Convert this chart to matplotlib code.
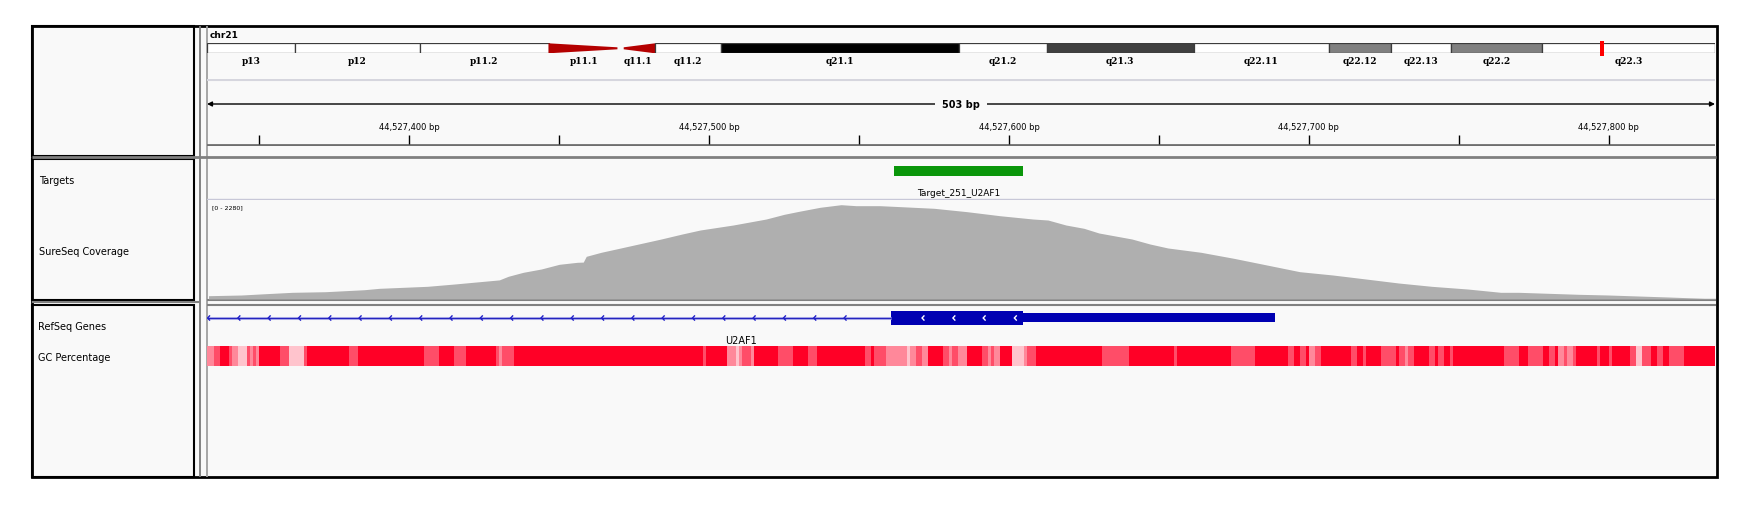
import numpy as np
import matplotlib.pyplot as plt
from matplotlib.patches import Rectangle, Polygon

W, H = 1751, 510

# chr21 cytobands (hg19), in Mb
band_names = ['p13', 'p12', 'p11.2', 'p11.1', 'q11.1', 'q11.2', 'q21.1', 'q21.2',
              'q21.3', 'q22.11', 'q22.12', 'q22.13', 'q22.2', 'q22.3']
band_starts = [0.0, 2.8, 6.8, 10.9, 13.2, 14.3, 16.4, 24.0, 26.8, 31.5, 35.8, 37.8, 39.7, 42.6]
band_ends = [2.8, 6.8, 10.9, 13.2, 14.3, 16.4, 24.0, 26.8, 31.5, 35.8, 37.8, 39.7, 42.6, 48.13]
band_stains = ['gvar', 'stalk', 'gvar', 'acen', 'acen', 'gneg', 'gpos100', 'gneg',
               'gpos75', 'gneg', 'gpos50', 'gneg', 'gpos50', 'gneg']
chrom_len = 48.13

# view window
base = 44527000
view_start = base + 332.5
view_bp = 503
view_end = view_start + view_bp

# target
target_name = 'Target_251_U2AF1'
target_start = base + 561.6
target_end = base + 604.6

# gene (minus strand)
gene_name = 'U2AF1'
cds_start = base + 560.6
cds_end = base + 604.6
utr_end = base + 688.9

# coverage (offset from base, depth)
cov_pos = [333, 344, 352, 361, 372, 385, 390, 406, 415, 430, 433, 438, 444, 450, 456, 458,
           459, 464, 469, 475, 484, 491, 497, 508, 519, 525, 530, 537, 544, 549, 557, 564,
           575, 586, 597, 608, 613, 619, 625, 630, 641, 647, 653, 664, 675, 686, 697, 708,
           719, 730, 741, 753, 764, 770, 780, 790, 800, 810, 820, 832, 836]
cov_depth = [76, 92, 122, 154, 168, 214, 246, 292, 345, 440, 523, 615, 691, 799, 845, 850,
             983, 1076, 1152, 1244, 1382, 1497, 1589, 1704, 1842, 1950, 2020, 2112, 2172, 2149, 2149, 2126,
             2089, 2011, 1918, 1842, 1819, 1704, 1628, 1520, 1382, 1267, 1175, 1076, 937, 783, 629, 553,
             461, 368, 292, 230, 154, 154, 131, 108, 92, 69, 46, 16, 16]
cov_max = 2280

# GC percentage windows (start offset from base, percent)
gc_starts = [332, 335, 337, 340, 341, 343, 346, 347, 348, 349, 350, 357, 360, 365, 366, 380,
             383, 405, 410, 415, 419, 429, 430, 431, 435, 498, 499, 506, 509, 510, 511, 514,
             515, 523, 528, 533, 536, 552, 554, 555, 559, 566, 567, 569, 571, 573, 578, 580,
             581, 583, 586, 591, 593, 594, 595, 597, 601, 605, 606, 609, 631, 640, 655, 656,
             674, 682, 693, 695, 697, 699, 700, 702, 704, 714, 716, 718, 719, 724, 729, 730,
             732, 733, 735, 740, 742, 743, 745, 747, 748, 765, 770, 773, 778, 780, 782, 783,
             785, 786, 788, 789, 796, 797, 800, 801, 807, 809, 811, 814, 816, 818, 820, 825]
gc_pct = [45, 55, 68, 55, 45, 35, 55, 45, 55, 45, 68, 55, 35, 55, 68, 55,
          68, 55, 68, 55, 68, 55, 45, 55, 68, 55, 68, 45, 35, 45, 55, 45,
          68, 55, 68, 55, 68, 55, 68, 55, 45, 35, 45, 55, 45, 68, 55, 45,
          55, 45, 68, 55, 45, 55, 45, 68, 35, 45, 55, 68, 55, 68, 55, 68,
          55, 68, 55, 68, 55, 68, 45, 55, 68, 55, 68, 55, 68, 55, 68, 55,
          45, 55, 68, 55, 68, 55, 68, 55, 68, 55, 68, 55, 68, 55, 68, 45,
          55, 45, 55, 68, 55, 68, 55, 68, 55, 35, 55, 68, 55, 68, 55, 68]
gc_end = 836

stain_colors = {'gneg': 'white', 'gvar': 'white', 'stalk': 'white', 'gpos50': '#808080',
                'gpos75': '#404040', 'gpos100': 'black', 'acen': '#B40000'}

BG = '#F9F9F9'
X0, X1 = 207, 1715  # data panel in pixels


def fig_rect(x0, y0, x1, y1):
    return [x0 / W, 1 - y1 / H, (x1 - x0) / W, (y1 - y0) / H]


def track_axes(y0, y1, ylim):
    ax = fig.add_axes(fig_rect(X0, y0, X1, y1))
    ax.set_xlim(view_start, view_end)
    ax.set_ylim(*ylim)
    ax.axis('off')
    ax.patch.set_alpha(0)
    return ax


def chevrons(ax, xs, y, color, lw, dx=0.8, dy=2.6):
    for x in xs:
        ax.plot([x + dx, x, x + dx], [y - dy, y, y + dy], color=color, lw=lw,
                solid_capstyle='butt', solid_joinstyle='miter')


fig = plt.figure(figsize=(W / 100, H / 100), dpi=100)
fig.patch.set_facecolor('white')

# --- frame / name panels ---
bg = fig.add_axes([0, 0, 1, 1])
bg.set_xlim(0, W)
bg.set_ylim(H, 0)
bg.axis('off')
bg.add_patch(Rectangle((32, 27), 1684.5, 451, fc=BG, ec='none'))
for y0, y1 in [(27, 157), (160, 300.7), (306, 478)]:
    bg.add_patch(Rectangle((32, y0), 162, y1 - y0, fc='none', ec='black', lw=1.5))
bg.vlines([200], 27, 478, color='#7a7a7a', lw=1.3)
bg.vlines([206.7], 27, 478, color='#a0a0a0', lw=1.3)
bg.hlines([158], 32, 1716, color='#808080', lw=2)
bg.hlines([303.3], 32, 200, color='#808080', lw=1.5)
bg.hlines([301.2, 305.5], 207, 1716, color='#808080', lw=1.5)
bg.add_patch(Rectangle((32, 27), 1684.5, 451, fc='none', ec='black', lw=2))

label_kw = dict(fontsize=7, va='center', ha='left', color='black')
bg.text(39, 181, 'Targets', **label_kw)
bg.text(39, 252, 'SureSeq Coverage', **label_kw)
bg.text(38, 327.5, 'RefSeq Genes', **label_kw)
bg.text(38, 358, 'GC Percentage', **label_kw)
bg.text(210, 36, 'chr21', fontsize=6.5, fontweight='bold', va='center', ha='left')
bg.text(211.5, 208, '[0 - 2280]', fontsize=4.5, va='center', ha='left')

# --- ideogram ---
ideo = fig.add_axes(fig_rect(X0, 44.3, X1, 54.3))
ideo.set_xlim(0, chrom_len)
ideo.set_ylim(0, 1)
ideo.axis('off')
for name, s, e, stain in zip(band_names, band_starts, band_ends, band_stains):
    if stain == 'acen':
        if name.startswith('p'):
            pts = [(s, 1), (s, 0), (e - 0.1, 0.4), (e - 0.1, 0.6)]
        else:
            pts = [(s + 0.1, 0.4), (s + 0.1, 0.6), (e, 1), (e, 0)]
        ideo.add_patch(Polygon(pts, closed=True, fc=stain_colors[stain], ec='none'))
    else:
        ideo.add_patch(Rectangle((s, 0), e - s, 1, fc=stain_colors[stain],
                                 ec='#3c3c3c', lw=0.9))
    ideo.text((s + e) / 2, -0.7, name, fontsize=6.5, fontweight='bold',
              family='DejaVu Serif', ha='center', va='center', clip_on=False)
view_mid_mb = (view_start + view_end) / 2 / 1e6
ideo.bar(view_mid_mb, 1.5, width=0.12, bottom=-0.22, color='#FF0000', clip_on=False)

# --- ruler ---
ruler = track_axes(80, 147, (147, 80))
ruler.axhline(80.5, color='#d6d6de', lw=1.5)
ruler.axhline(146, color='#6e6e6e', lw=2)
ticks = np.arange(np.ceil(view_start / 50) * 50, view_end, 50)
ruler.vlines(ticks, 136, 145, color='black', lw=1)
for t in ticks:
    if t % 100 == 0:
        ruler.text(t, 128, f'{int(t):,} bp', fontsize=6, ha='center', va='center')
view_mid = (view_start + view_end) / 2
arrow_kw = dict(arrowstyle='-|>', color='black', lw=1, mutation_scale=7, shrinkA=0, shrinkB=0)
ruler.annotate('', xy=(view_start, 105), xytext=(view_mid, 105), arrowprops=arrow_kw)
ruler.annotate('', xy=(view_end, 105), xytext=(view_mid, 105), arrowprops=arrow_kw)
ruler.text(view_mid, 105, f'{view_bp} bp', fontsize=7, fontweight='bold', ha='center',
           va='center', bbox=dict(fc=BG, ec='none', pad=5))

# --- targets ---
tgt = track_axes(160, 200.7, (40.7, 0))
tgt.axhline(40.2, color='#c8c8d8', lw=1)
tgt.broken_barh([(target_start, target_end - target_start)], (6.7, 10), facecolors='#0A960A')
tgt.text((target_start + target_end) / 2, 33.7, target_name, fontsize=6.5, ha='center', va='center')

# --- coverage ---
cov = track_axes(201, 300, (0, cov_max))
cov_x = np.array(cov_pos) + base
cov.fill_between(cov_x, 0, cov_depth, color='#AFAFAF', lw=0)

# --- genes ---
gene = track_axes(306, 345, (39, 0))
gene.plot([view_start, cds_start], [13, 13], color='#c4c4f2', lw=2.2, solid_capstyle='butt')
gene.plot([view_start, cds_start], [13, 13], color='#2424BE', lw=1.0, solid_capstyle='butt')
chevrons(gene, view_start + 0.2 + np.arange(22) * 10.11, 13, '#2020C8', 1.0)
gene.broken_barh([(cds_start, cds_end - cds_start)], (5.7, 14), facecolors='#0000B2')
gene.broken_barh([(cds_end, utr_end - cds_end)], (8.3, 8.7), facecolors='#0000B2')
chevrons(gene, base + np.array([571.0, 581.3, 591.4, 601.8]), 13, 'white', 1.0)
gene.text((view_start + utr_end) / 2, 34.7, gene_name, fontsize=7, ha='center', va='center')

# --- GC percentage ---
gc = track_axes(347, 367, (0, 1))
gc_x = np.array(gc_starts) + base
gc_w = np.diff(np.append(gc_x, gc_end + base))
red = np.array([1.0, 0.0, 0.15])
for x, w, p in zip(gc_x, gc_w, gc_pct):
    a = np.clip((p - 25) / 43, 0, 1)
    col = 1 - a * (1 - red)
    gc.bar(x, 1, width=w, align='edge', color=col, lw=0)

fig.savefig('out.png', dpi=100, facecolor='white')
